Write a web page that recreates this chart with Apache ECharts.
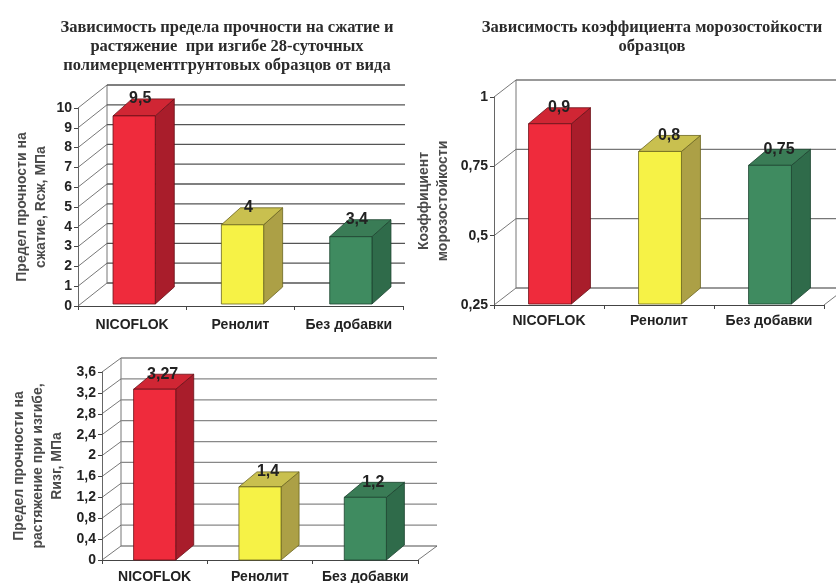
<!DOCTYPE html>
<html>
<head>
<meta charset="utf-8">
<script src="https://cdn.jsdelivr.net/npm/echarts@6/dist/echarts.min.js"></script>
<style>
html, body { margin: 0; padding: 0; background: #fff; }
#chart { width: 836px; height: 583px; }
</style>
</head>
<body>
<div id="chart"></div>
<script>
// данные
const categories = ["NICOFLOK", "Ренолит", "Без добавки"];
const compressive = [9.5, 4, 3.4];
const frost = [0.9, 0.8, 0.75];
const bending = [3.27, 1.4, 1.2];

const compressiveTicks = [0, 1, 2, 3, 4, 5, 6, 7, 8, 9, 10];
const frostTicks = [0.25, 0.5, 0.75, 1];
const bendingTicks = [0, 0.4, 0.8, 1.2, 1.6, 2, 2.4, 2.8, 3.2, 3.6];

const titles = [
  "Зависимость предела прочности на сжатие и\nрастяжение  при изгибе 28-суточных\nполимерцементгрунтовых образцов от вида",
  "Зависимость коэффициента морозостойкости\nобразцов"
];
const axisNames = [
  "Предел прочности на\nсжатие, Rсж, МПа",
  "Коэффициент\nморозостойкости",
  "Предел прочности на\nрастяжение при изгибе,\nRизг, МПа"
];

const barColors = [
  { front: "#ef2b3c", top: "#d02634", side: "#a91d2b", edge: "#6a1018" },
  { front: "#f6f246", top: "#c9c04f", side: "#aca046", edge: "#6b6420" },
  { front: "#3f8b60", top: "#3a7c56", side: "#2f6b4a", edge: "#1d4430" }
];

const SANS = "'Liberation Sans', Arial, sans-serif";
const SERIF = "'Liberation Serif', 'Times New Roman', serif";

const fmt = v => String(v).replace(".", ",");

// панели: данные + раскладка
const panels = [
  {
    values: compressive, ticks: compressiveTicks, min: 0, max: 10, interval: 1,
    grid: { left: 78, top: 108, width: 325, height: 198 },
    wall: [29, -23], barFront: [2, -2], barBack: [21, -19], barRatio: 0.39,
    cropX: 405, nameGap: 27, labelMargin: 12, gridColor: "#555", labelDx: 8
  },
  {
    values: frost, ticks: frostTicks, min: 0.25, max: 1, interval: 0.25,
    grid: { left: 494, top: 97, width: 330, height: 208 },
    wall: [22, -17], barFront: [1, -1], barBack: [20, -17], barRatio: 0.39,
    cropX: null, nameGap: 41, labelMargin: 9, gridColor: "#777", labelDx: 10
  },
  {
    values: bending, ticks: bendingTicks, min: 0, max: 3.6, interval: 0.4,
    grid: { left: 102, top: 372, width: 316, height: 188 },
    wall: [19, -14], barFront: [0, 0], barBack: [18, -15], barRatio: 0.4,
    cropX: null, nameGap: 35, labelMargin: 10, gridColor: "#888", labelDx: 8
  }
];

function wallItem(p) {
  return function (params, api) {
    const cs = params.coordSys;
    const y = api.coord([0, api.value(1)])[1];
    const dx = p.wall[0], dy = p.wall[1];
    const xl = cs.x, xr = cs.x + cs.width;
    const backR = p.cropX ? Math.min(xr + dx, p.cropX) : xr + dx;
    const children = [
      { type: "line", shape: { x1: xl + dx, y1: y + dy, x2: backR, y2: y + dy },
        style: { stroke: p.gridColor, lineWidth: 1.3 } },
      { type: "line", shape: { x1: xl, y1: y, x2: xl + dx, y2: y + dy },
        style: { stroke: "#555", lineWidth: 0.8 } }
    ];
    if (params.dataIndex === 0) {
      children.push({ type: "line",
        shape: { x1: xl + dx, y1: cs.y + dy, x2: xl + dx, y2: cs.y + cs.height + dy },
        style: { stroke: "#777", lineWidth: 1 } });
      if (!p.cropX) {
        children.push({ type: "line", shape: { x1: xr, y1: y, x2: xr + dx, y2: y + dy },
          style: { stroke: "#555", lineWidth: 0.8 } });
      }
    }
    return { type: "group", children: children };
  };
}

function barItem(p) {
  return function (params, api) {
    const i = api.value(0), v = api.value(1);
    const base = api.coord([i, p.min]);
    const top = api.coord([i, v]);
    const bw = api.size([1, 0])[0] * p.barRatio;
    const ddx = p.barBack[0] - p.barFront[0], ddy = p.barBack[1] - p.barFront[1];
    const x0 = base[0] - bw / 2 + p.barFront[0], x1 = x0 + bw;
    const yb = base[1] + p.barFront[1], yt = top[1] + p.barFront[1];
    const c = barColors[i];
    return {
      type: "group",
      children: [
        { type: "polygon", shape: { points: [[x1, yt], [x1 + ddx, yt + ddy], [x1 + ddx, yb + ddy], [x1, yb]] },
          style: { fill: c.side, stroke: c.edge, lineWidth: 0.8 } },
        { type: "polygon", shape: { points: [[x0, yt], [x1, yt], [x1 + ddx, yt + ddy], [x0 + ddx, yt + ddy]] },
          style: { fill: c.top, stroke: c.edge, lineWidth: 0.8 } },
        { type: "rect", shape: { x: x0, y: yt, width: bw, height: yb - yt },
          style: { fill: c.front, stroke: c.edge, lineWidth: 0.8 } },
        { type: "text", x: base[0] + p.labelDx, y: yt + ddy,
          style: { text: fmt(v), fontSize: 16, fontWeight: "bold", fontFamily: SANS,
                   fill: "#222", align: "center", verticalAlign: "middle" } }
      ]
    };
  };
}

const option = {
  animation: false,
  backgroundColor: "#fff",
  textStyle: { fontFamily: SANS },
  title: [
    { text: titles[0], left: 222, top: 13, textAlign: "center",
      textStyle: { fontFamily: SERIF, fontSize: 16.5, fontWeight: "bold", color: "#2b2b2b", lineHeight: 19 } },
    { text: titles[1], left: 647, top: 13, textAlign: "center",
      textStyle: { fontFamily: SERIF, fontSize: 16.5, fontWeight: "bold", color: "#2b2b2b", lineHeight: 19 } }
  ],
  grid: panels.map(p => Object.assign({ containLabel: false, outerBoundsMode: "none" }, p.grid)),
  xAxis: panels.map((p, k) => ({
    type: "category", gridIndex: k, data: categories,
    axisLine: { show: true, onZero: false, lineStyle: { color: "#444", width: 1 } },
    axisTick: { show: true, length: 4, lineStyle: { color: "#444" } },
    axisLabel: { interval: 0, hideOverlap: false, margin: p.labelMargin, fontSize: 14,
                 fontWeight: "bold", color: "#222", fontFamily: SANS },
    splitLine: { show: false }
  })),
  yAxis: panels.map((p, k) => ({
    type: "value", gridIndex: k, min: p.min, max: p.max, interval: p.interval,
    name: axisNames[k], nameLocation: "middle", nameRotate: 90, nameGap: p.nameGap,
    nameTextStyle: { fontSize: 14, fontWeight: "bold", color: "#4a4a4a", lineHeight: 19, fontFamily: SANS },
    axisLine: { show: true, lineStyle: { color: "#666", width: 1 } },
    axisTick: { show: true, length: 4, lineStyle: { color: "#444" } },
    axisLabel: { fontSize: 14, fontWeight: "bold", color: "#222", margin: 6, formatter: fmt, fontFamily: SANS },
    splitLine: { show: false }
  })),
  series: []
};

panels.forEach((p, k) => {
  option.series.push({
    type: "custom", xAxisIndex: k, yAxisIndex: k, z: 1, silent: true,
    data: p.ticks.map(t => [0, t]),
    encode: { x: 0, y: 1 },
    renderItem: wallItem(p)
  });
  option.series.push({
    type: "custom", xAxisIndex: k, yAxisIndex: k, z: 3,
    data: p.values.map((v, i) => [i, v]),
    encode: { x: 0, y: 1 },
    renderItem: barItem(p)
  });
});

const chart = echarts.init(document.getElementById("chart"), null, { renderer: "canvas" });
chart.setOption(option);
</script>
</body>
</html>
